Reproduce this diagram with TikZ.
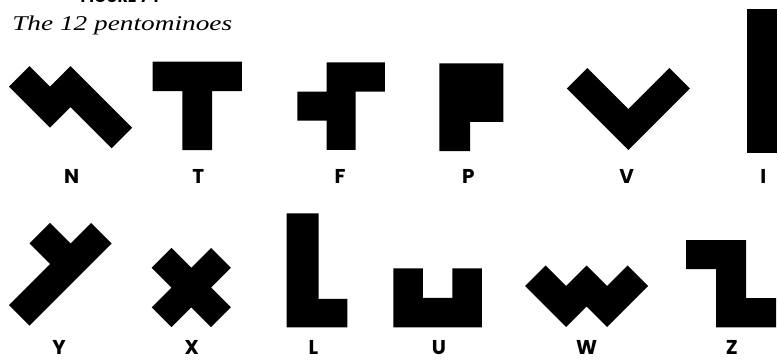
\documentclass[tikz,border=0pt]{standalone}
\usepackage{fontspec}
\newfontfamily\labfont{Poppins}
\newfontfamily\titlefont{Liberation Serif}
\begin{document}
\begin{tikzpicture}[x=1pt,y=-1pt,
  lab/.style={font=\labfont\bfseries\fontsize{20}{20}\selectfont, anchor=base, inner sep=0pt}]
\useasboundingbox (0,0) rectangle (778,359);
\clip (0,0) rectangle (778,359);
% title
\node[font=\labfont\bfseries\fontsize{16}{16}\selectfont, anchor=base, inner sep=0pt] (fig) at (120,2.5) {FIGURE 74};
\node[font=\titlefont\itshape\fontsize{21}{21}\selectfont, anchor=base west, inner sep=0pt, xscale=1.3] (title) at (12,30) {The 12 pentominoes};
% ---- row 1 ----
% N
\begin{scope}[shift={(9,86.7)}, rotate=-45, x=29pt, y=-29pt]
  \fill (0,0)--(0,-1)--(1,-1)--(1,-2)--(4,-2)--(4,-1)--(2,-1)--(2,0)--cycle;
\end{scope}
% T
\begin{scope}[shift={(152.7,61.7)}, x=29.7pt, y=-29.5pt]
  \fill (0,0)--(3,0)--(3,1)--(2,1)--(2,3)--(1,3)--(1,1)--(0,1)--cycle;
\end{scope}
% F
\begin{scope}[shift={(297.3,62.3)}, x=29.2pt, y=-29.2pt]
  \fill (1,0)--(3,0)--(3,1)--(2,1)--(2,3)--(1,3)--(1,2)--(0,2)--(0,1)--(1,1)--cycle;
\end{scope}
% P
\begin{scope}[shift={(439.3,63.3)}, x=32pt, y=-29.3pt]
  \fill (0,0)--(2,0)--(2,2)--(0.96,2)--(0.96,3)--(0,3)--cycle;
\end{scope}
% V
\begin{scope}[shift={(628.3,150)}, rotate=45, x=29pt, y=-29pt]
  \fill (0,-3)--(1,-3)--(1,-1)--(3,-1)--(3,0)--(0,0)--cycle;
\end{scope}
% I
\begin{scope}[shift={(746.7,9.3)}, x=30.5pt, y=-28.7pt]
  \fill (0,0) rectangle (1,5);
\end{scope}
% ---- row 2 ----
% Y
\begin{scope}[shift={(9,305)}, rotate=45, x=29pt, y=-29pt]
  \fill (0,0)--(0,1)--(4,1)--(4,0)--(3,0)--(3,-1)--(2,-1)--(2,0)--cycle;
\end{scope}
% X
\begin{scope}[shift={(191.3,287.5)}, rotate=45, x=28pt, y=-28pt]
  \fill (-0.5,-1.5)--(0.5,-1.5)--(0.5,-0.5)--(1.5,-0.5)--(1.5,0.5)--(0.5,0.5)--(0.5,1.5)--(-0.5,1.5)--(-0.5,0.5)--(-1.5,0.5)--(-1.5,-0.5)--(-0.5,-0.5)--cycle;
\end{scope}
% L
\begin{scope}[shift={(286.7,213.3)}, x=30.3pt, y=-28.5pt]
  \fill (0,0)--(1.05,0)--(1.05,3)--(2,3)--(2,4)--(0,4)--cycle;
\end{scope}
% U
\begin{scope}[shift={(393.3,268.3)}, x=29.5pt, y=-29.5pt]
  \fill (0,0)--(1,0)--(1,1)--(2,1)--(2,0)--(3,0)--(3,2)--(0,2)--cycle;
\end{scope}
% W
\begin{scope}[shift={(525,286)}, rotate=45, x=29pt, y=-29pt]
  \fill (0,0)--(1,0)--(1,1)--(2,1)--(2,2)--(3,2)--(3,3)--(1,3)--(1,2)--(0,2)--cycle;
\end{scope}
% Z
\begin{scope}[shift={(686,240)}, x=30pt, y=-29.1pt]
  \fill (0,0)--(2,0)--(2,2)--(3,2)--(3,3)--(1,3)--(1,1)--(0,1)--cycle;
\end{scope}
% labels
\node[lab] (lN) at (71.7,183) {N};
\node[lab] (lT) at (198.3,183) {T};
\node[lab] (lF) at (340,183) {F};
\node[lab] (lP) at (468.3,183) {P};
\node[lab] (lV) at (626.7,183) {V};
\node[lab] (lI) at (763.3,183) {I};
\node[lab] (lY) at (59,354) {Y};
\node[lab] (lX) at (191.7,354) {X};
\node[lab] (lL) at (313.3,354) {L};
\node[lab] (lU) at (439,354) {U};
\node[lab] (lW) at (586.7,354) {W};
\node[lab] (lZ) at (731.7,354) {Z};
\end{tikzpicture}
\end{document}
